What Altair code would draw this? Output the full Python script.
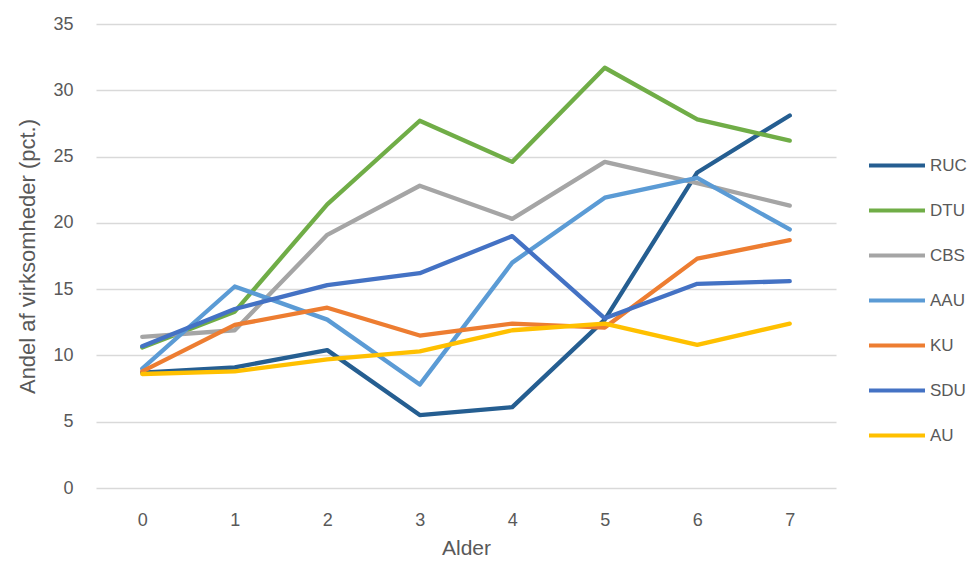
import altair as alt
import pandas as pd

ages = [0, 1, 2, 3, 4, 5, 6, 7]
series_names = ["RUC", "DTU", "CBS", "AAU", "KU", "SDU", "AU"]
ruc = [8.7, 9.1, 10.4, 5.5, 6.1, 12.7, 23.8, 28.1]
dtu = [10.6, 13.3, 21.4, 27.7, 24.6, 31.7, 27.8, 26.2]
cbs = [11.4, 11.9, 19.1, 22.8, 20.3, 24.6, 23.0, 21.3]
aau = [9.0, 15.2, 12.7, 7.8, 17.0, 21.9, 23.4, 19.5]
ku = [8.8, 12.3, 13.6, 11.5, 12.4, 12.1, 17.3, 18.7]
sdu = [10.7, 13.5, 15.3, 16.2, 19.0, 12.8, 15.4, 15.6]
au = [8.6, 8.8, 9.7, 10.3, 11.9, 12.4, 10.8, 12.4]
colors = ["#255E91", "#70AD47", "#A5A5A5", "#5B9BD5", "#ED7D31", "#4472C4", "#FFC000"]

all_vals = [ruc, dtu, cbs, aau, ku, sdu, au]
rows = []
for i, (name, vals) in enumerate(zip(series_names, all_vals)):
    for a, v in zip(ages, vals):
        rows.append({"Alder": a, "Andel": v, "Serie": name, "ord": i})
df = pd.DataFrame(rows)

font = "Liberation Sans"
gray = "#595959"

chart = alt.Chart(df).mark_line(strokeWidth=4.3, strokeCap="round", strokeJoin="round").encode(
    x=alt.X("Alder:O", title="Alder",
            scale=alt.Scale(type="point", padding=0.5),
            axis=alt.Axis(labelAngle=0, ticks=False, domain=False, grid=False,
                          labelFont=font, labelFontSize=18, labelColor=gray,
                          labelPadding=23, titleFont=font, titleFontSize=21,
                          titleFontWeight="normal", titleColor=gray, titlePadding=8)),
    y=alt.Y("Andel:Q", title="Andel af virksomheder (pct.)",
            scale=alt.Scale(domain=[0, 35], nice=False),
            axis=alt.Axis(values=[0, 5, 10, 15, 20, 25, 30, 35], ticks=False, domain=False,
                          gridColor="#D9D9D9", gridWidth=1.3,
                          labelFont=font, labelFontSize=18, labelColor=gray,
                          labelPadding=23, titleFont=font, titleFontSize=22,
                          titleFontWeight="normal", titleColor=gray, titlePadding=13)),
    color=alt.Color("Serie:N", scale=alt.Scale(domain=series_names, range=colors),
                    legend=alt.Legend(title=None, orient="none", legendX=771, legendY=119,
                                      symbolType="stroke", symbolSize=3136,
                                      symbolStrokeWidth=4, clipHeight=45, rowPadding=0,
                                      labelFont=font, labelFontSize=17, labelColor=gray,
                                      labelOffset=3)),
    order=alt.Order("ord:Q"),
).properties(
    width=740, height=464,
    autosize=alt.AutoSizeParams(type="none"),
    padding={"left": 88, "top": 16, "right": 133, "bottom": 70},
).configure_view(stroke=None).configure_legend(symbolStrokeColor=None)

chart.save("out.html", embed_options={"renderer": "svg", "actions": False})
